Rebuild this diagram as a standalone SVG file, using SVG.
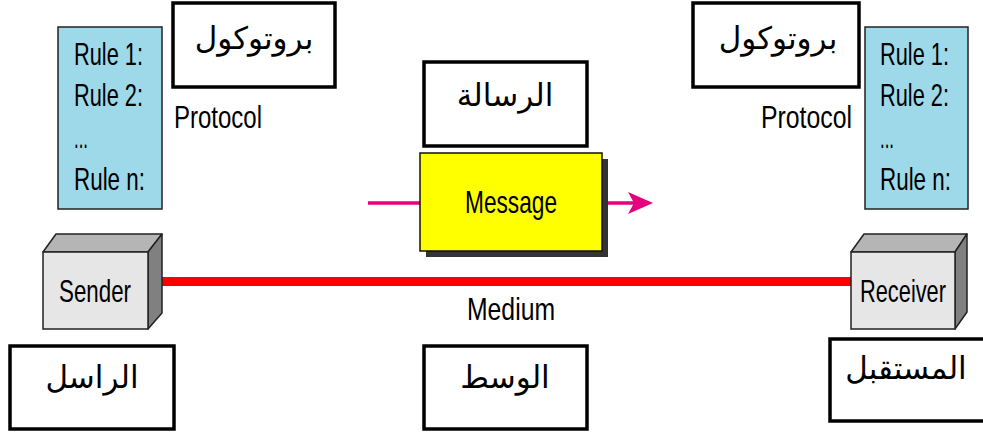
<svg xmlns="http://www.w3.org/2000/svg" width="983" height="434" viewBox="0 0 983 434">
<style>
.lat{font-family:"Liberation Sans",Arial,sans-serif;fill:#000;font-size:32px;}
.ar{font-family:"DejaVu Sans","Noto Sans",sans-serif;font-size:31px;fill:#000;text-anchor:middle;}
.lbl{fill:#fff;stroke:#000;stroke-width:3.5;}
.rules{fill:#9dd9e8;stroke:#222;stroke-width:1.5;}
.front{fill:#e6e6e6;stroke:#222;stroke-width:1.5;}
.top{fill:#b5b5b5;stroke:#222;stroke-width:1.5;stroke-linejoin:round;}
.side{fill:#808080;stroke:#222;stroke-width:1.5;stroke-linejoin:round;}
</style>
<rect width="983" height="434" fill="#fff"/>

<g id="sender-protocol-label">
<rect class="lbl" x="173" y="3" width="162" height="84"/>
<text class="ar" x="254" y="49">بروتوكول</text>
</g>
<g id="sender-rules">
<rect class="rules" x="58" y="27" width="104" height="182"/>
<text class="lat" x="74" y="65" textLength="69" lengthAdjust="spacingAndGlyphs">Rule 1:</text>
<text class="lat" x="74" y="106" textLength="69" lengthAdjust="spacingAndGlyphs">Rule 2:</text>
<text class="lat" x="74" y="148" textLength="14" lengthAdjust="spacingAndGlyphs">...</text>
<text class="lat" x="74" y="190" textLength="71" lengthAdjust="spacingAndGlyphs">Rule n:</text>
</g>
<g id="sender-protocol-text">
<text class="lat" x="174" y="128" textLength="88" lengthAdjust="spacingAndGlyphs">Protocol</text>
</g>

<g id="receiver-protocol-label">
<rect class="lbl" x="693" y="3" width="166" height="84"/>
<text class="ar" x="778" y="49">بروتوكول</text>
</g>
<g id="receiver-rules">
<rect class="rules" x="865" y="27" width="103" height="182"/>
<text class="lat" x="880" y="65" textLength="69" lengthAdjust="spacingAndGlyphs">Rule 1:</text>
<text class="lat" x="880" y="106" textLength="69" lengthAdjust="spacingAndGlyphs">Rule 2:</text>
<text class="lat" x="880" y="148" textLength="14" lengthAdjust="spacingAndGlyphs">...</text>
<text class="lat" x="880" y="190" textLength="71" lengthAdjust="spacingAndGlyphs">Rule n:</text>
</g>
<g id="receiver-protocol-text">
<text class="lat" x="761" y="128" textLength="91" lengthAdjust="spacingAndGlyphs">Protocol</text>
</g>

<g id="message-label">
<rect class="lbl" x="424" y="62" width="163" height="84"/>
<text class="ar" x="505" y="106">الرسالة</text>
</g>

<g id="connectors">
<line x1="154" y1="281.5" x2="851" y2="281.5" stroke="#ff0000" stroke-width="9"/>
<line x1="368" y1="203" x2="420" y2="203" stroke="#e5007d" stroke-width="3.5"/>
<line x1="602" y1="203" x2="634" y2="203" stroke="#e5007d" stroke-width="3.5"/>
<path d="M628,192 L653,203 L628,214 L634,203 Z" fill="#e5007d"/>
</g>

<g id="message">
<rect x="426" y="159" width="182" height="98" fill="#333"/>
<rect x="420" y="153" width="182" height="98" fill="#ffff00" stroke="#111" stroke-width="1.5"/>
<text class="lat" x="511" y="213" text-anchor="middle" textLength="92" lengthAdjust="spacingAndGlyphs">Message</text>
</g>

<g id="sender">
<polygon class="top" points="43,252 56,234 162,234 148,252"/>
<polygon class="side" points="148,252 162,234 162,313 148,329"/>
<rect class="front" x="43" y="252" width="105" height="77"/>
<text class="lat" x="95" y="302" text-anchor="middle" textLength="72" lengthAdjust="spacingAndGlyphs">Sender</text>
</g>

<g id="receiver">
<polygon class="top" points="851,252 864,234 967,234 955,252"/>
<polygon class="side" points="955,252 967,234 967,312 955,329"/>
<rect class="front" x="851" y="252" width="104" height="77"/>
<text class="lat" x="903" y="302" font-size="26" text-anchor="middle" textLength="86" lengthAdjust="spacingAndGlyphs">Receiver</text>
</g>

<g id="medium-text">
<text class="lat" x="511" y="320" text-anchor="middle" textLength="88" lengthAdjust="spacingAndGlyphs">Medium</text>
</g>

<g id="sender-label">
<rect class="lbl" x="10" y="346" width="164" height="83"/>
<text class="ar" x="92" y="388">الراسل</text>
</g>
<g id="medium-label">
<rect class="lbl" x="424" y="346" width="163" height="83"/>
<text class="ar" x="505" y="388">الوسط</text>
</g>
<g id="receiver-label">
<rect class="lbl" x="830" y="339" width="200" height="82"/>
<text class="ar" x="906" y="379">المستقبل</text>
</g>
</svg>
